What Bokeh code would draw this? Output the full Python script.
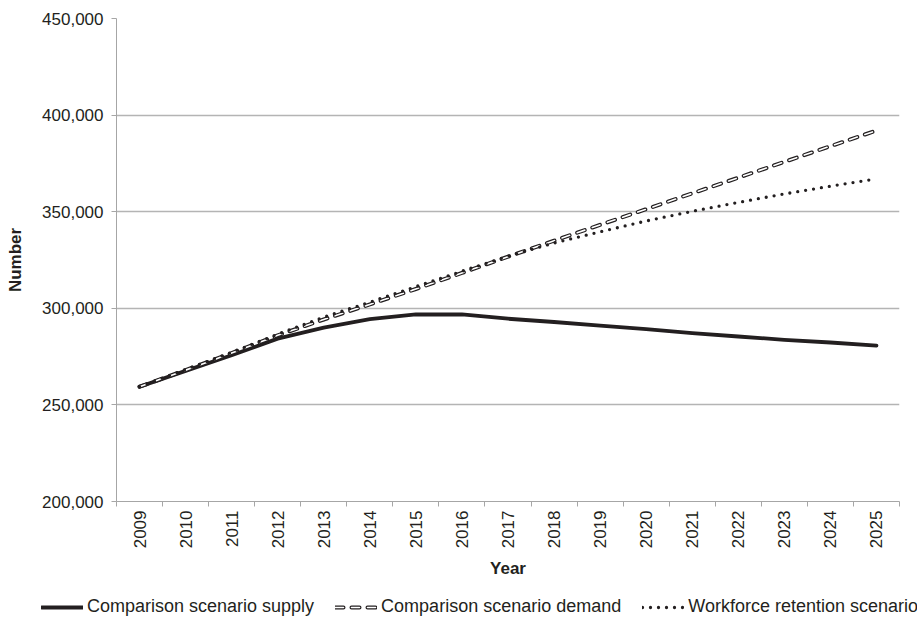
from bokeh.plotting import figure
from bokeh.models import Range1d, FixedTicker, NumeralTickFormatter, Legend, LegendItem
from bokeh.embed import file_html
from bokeh.resources import INLINE
import math

years = list(range(2009, 2026))
supply = [259400, 267600, 275700, 284300, 290000, 294400, 296900, 296800, 294600,
          292900, 291000, 289200, 287200, 285400, 283700, 282300, 280700]
demand = [259400, 268000, 276800, 286000, 294200, 302000, 310000, 318300, 326700,
          335000, 343200, 351300, 359500, 367600, 375800, 383900, 392000]
retention = [259400, 268300, 277200, 286600, 295400, 303200, 311200, 319200, 327000,
             333800, 339600, 345200, 350200, 354800, 359200, 363200, 367000]
y_ticks = [200000, 250000, 300000, 350000, 400000, 450000]
labels = ["Comparison scenario supply", "Comparison scenario demand", "Workforce retention scenario"]

INK = "#231f20"
GRID = "#b4b4b4"
AXIS = "#a6a6a6"
FONT = "Liberation Sans"

SUPPLY_STYLE = dict(line_color=INK, line_width=3.8, line_join="round", line_cap="round")
DEMAND_OUTER = dict(line_color=INK, line_width=4, line_dash="8 8", line_cap="round", line_join="round")
DEMAND_INNER = dict(line_color="white", line_width=1.6, line_dash="8 8", line_cap="round", line_join="round")
RETENTION_STYLE = dict(line_color=INK, line_width=3.3, line_dash="0 8", line_cap="round", line_join="round")

p = figure(width=917, height=581, output_backend="svg", toolbar_location=None,
           x_range=Range1d(years[0] - 0.5, years[-1] + 0.5),
           y_range=Range1d(y_ticks[0], y_ticks[-1]),
           min_border_left=116, min_border_right=18, min_border_top=18, min_border_bottom=78)
p.outline_line_color = None
p.background_fill_color = "white"

p.line(years, supply, **SUPPLY_STYLE)
p.line(years, demand, **DEMAND_OUTER)
p.line(years, demand, **DEMAND_INNER)
p.line(years, retention, **RETENTION_STYLE)

# x axis
xa = p.xaxis[0]
xa.ticker = FixedTicker(ticks=years, minor_ticks=[y - 0.5 for y in years] + [years[-1] + 0.5])
xa.major_tick_line_color = None
xa.major_tick_out = 5
xa.major_tick_in = 0
xa.minor_tick_line_color = AXIS
xa.minor_tick_out = 5
xa.minor_tick_in = 0
xa.axis_line_color = AXIS
xa.major_label_orientation = math.pi / 2
xa.major_label_standoff = 4
xa.major_label_text_font = FONT
xa.major_label_text_font_size = "17px"
xa.major_label_text_color = INK
xa.axis_label = "Year"
xa.axis_label_text_font = FONT
xa.axis_label_text_font_size = "17px"
xa.axis_label_text_font_style = "bold"
xa.axis_label_text_color = INK
xa.axis_label_standoff = 8

# y axis
ya = p.yaxis[0]
ya.ticker = FixedTicker(ticks=y_ticks)
ya.formatter = NumeralTickFormatter(format="0,0")
ya.major_tick_line_color = AXIS
ya.major_tick_out = 5
ya.major_tick_in = 0
ya.minor_tick_line_color = None
ya.axis_line_color = AXIS
ya.major_label_standoff = 8
ya.major_label_text_font = FONT
ya.major_label_text_font_size = "17px"
ya.major_label_text_color = INK
ya.axis_label = "Number"
ya.axis_label_text_font = FONT
ya.axis_label_text_font_size = "17px"
ya.axis_label_text_font_style = "bold"
ya.axis_label_text_color = INK
ya.axis_label_standoff = 14

p.xgrid.visible = False
p.ygrid.ticker = FixedTicker(ticks=y_ticks)
p.ygrid.grid_line_color = GRID
p.ygrid.grid_line_width = 1.3

# legend strip below the chart (separate root, so its frame spans the full width)
lg = figure(width=917, height=38, output_backend="svg", toolbar_location=None,
            x_range=Range1d(0, 1), y_range=Range1d(0, 1),
            x_axis_type=None, y_axis_type=None,
            min_border_left=0, min_border_right=0, min_border_top=0, min_border_bottom=0)
lg.outline_line_color = None
lg.grid.visible = False
# single-point keys (draw nothing in the strip, only feed the legend glyphs)
k1 = lg.line(years[:1], supply[:1], **SUPPLY_STYLE)
k2a = lg.line(years[:1], demand[:1], **DEMAND_OUTER)
k2b = lg.line(years[:1], demand[:1], **DEMAND_INNER)
k3 = lg.line(years[:1], retention[:1], **RETENTION_STYLE)

legend = Legend(items=[LegendItem(label=labels[0], renderers=[k1]),
                       LegendItem(label=labels[1], renderers=[k2a, k2b]),
                       LegendItem(label=labels[2], renderers=[k3])],
                orientation="horizontal", location=(41, 2),
                border_line_color=None, background_fill_alpha=0,
                padding=0, margin=0, glyph_width=42, glyph_height=18,
                label_height=18, label_standoff=4, spacing=21,
                label_text_font=FONT, label_text_font_size="18px",
                label_text_color=INK)
lg.add_layout(legend, "center")

open("out.html", "w").write(file_html([p, lg], INLINE))
